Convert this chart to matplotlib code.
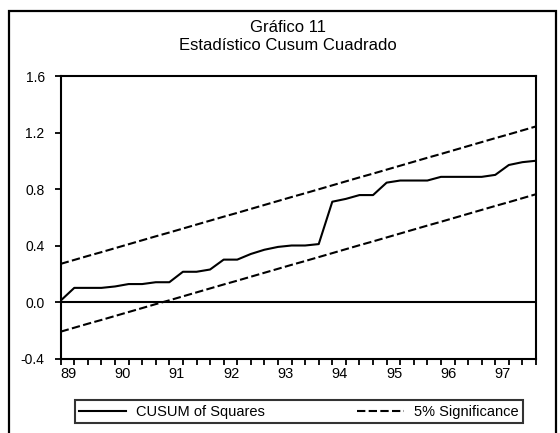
import matplotlib
matplotlib.use("Agg")
import matplotlib.pyplot as plt
from matplotlib.patches import Rectangle

plt.rcParams['font.family'] = ['Liberation Sans', 'DejaVu Sans']

# CUSUM of squares, quarterly 1989Q1 - 1997Q4
cusum = [0.01, 0.10, 0.10, 0.10, 0.11, 0.127, 0.127, 0.14, 0.14, 0.214,
         0.214, 0.23, 0.30, 0.30, 0.34, 0.37, 0.39, 0.40, 0.40, 0.41,
         0.71, 0.73, 0.757, 0.757, 0.845, 0.86, 0.86, 0.86, 0.886, 0.886,
         0.886, 0.886, 0.90, 0.97, 0.99, 1.00]
upper = [0.270, 0.298, 0.326, 0.353, 0.381, 0.409, 0.437, 0.465, 0.492, 0.520,
         0.548, 0.576, 0.604, 0.631, 0.659, 0.687, 0.715, 0.743, 0.770, 0.798,
         0.826, 0.854, 0.882, 0.909, 0.937, 0.965, 0.993, 1.021, 1.048, 1.076,
         1.104, 1.132, 1.160, 1.187, 1.215, 1.243]
lower = [-0.210, -0.182, -0.154, -0.127, -0.099, -0.071, -0.043, -0.015, 0.012, 0.040,
         0.068, 0.096, 0.124, 0.151, 0.179, 0.207, 0.235, 0.263, 0.290, 0.318,
         0.346, 0.374, 0.402, 0.429, 0.457, 0.485, 0.513, 0.541, 0.568, 0.596,
         0.624, 0.652, 0.680, 0.707, 0.735, 0.763]
year_labels = ["89", "90", "91", "92", "93", "94", "95", "96", "97"]
y_ticks = [-0.4, 0.0, 0.4, 0.8, 1.2, 1.6]

W, H = 560, 433
fig = plt.figure(figsize=(W / 100, H / 100), dpi=100)

# outer frame (open at the bottom)
fig.add_artist(Rectangle((9 / W, -0.05), (556 - 9) / W, 1.05 - 11 / H,
                         transform=fig.transFigure, fill=False,
                         edgecolor='black', linewidth=1.6, clip_on=False))

ax = fig.add_axes([60.7 / W, 1 - 358.5 / H, (536 - 60.7) / W, (358.5 - 76) / H])
x = list(range(len(cusum)))

dash = (0, (4.0, 1.6))
ax.plot(x, cusum, color='black', linewidth=1.5, label='CUSUM of Squares')
ax.plot(x, upper, color='black', linewidth=1.5, linestyle=dash,
        label='5% Significance')
ax.plot(x, lower, color='black', linewidth=1.5, linestyle=dash)
ax.axhline(0, color='black', linewidth=1.5)

ax.set_xlim(0, len(cusum) - 1)
ax.set_ylim(-0.4, 1.6)
ax.set_yticks(y_ticks)
ax.set_yticklabels(["%.1f" % v for v in y_ticks], fontsize=10)

ax.set_xticks([4 * k + 0.55 for k in range(len(year_labels))])
ax.set_xticklabels(year_labels, fontsize=10.5)
ax.set_xticks(x, minor=True)
ax.tick_params(axis='x', which='major', length=0, pad=6)
ax.tick_params(axis='x', which='minor', length=4.5, width=1.3, direction='out')
ax.tick_params(axis='y', length=4.5, width=1.3, direction='out', pad=7)
for s in ax.spines.values():
    s.set_linewidth(1.5)

fig.text(0.514, 1 - 28 / H, "Gráfico 11", ha='center', va='center', fontsize=12)
fig.text(0.514, 1 - 45 / H, "Estadístico Cusum Cuadrado",
         ha='center', va='center', fontsize=12)

leg = fig.legend(loc='lower left', ncol=2, mode='expand',
                 bbox_to_anchor=(75 / W, 1 - 423 / H, (523 - 75) / W, 23 / H),
                 fontsize=10.5, frameon=True, fancybox=False, borderaxespad=0,
                 handlelength=3.2, handletextpad=0.7, borderpad=0.3,
                 columnspacing=1.5)
leg.get_frame().set_edgecolor('black')
leg.get_frame().set_linewidth(1.5)

fig.savefig("out.png", dpi=100)
